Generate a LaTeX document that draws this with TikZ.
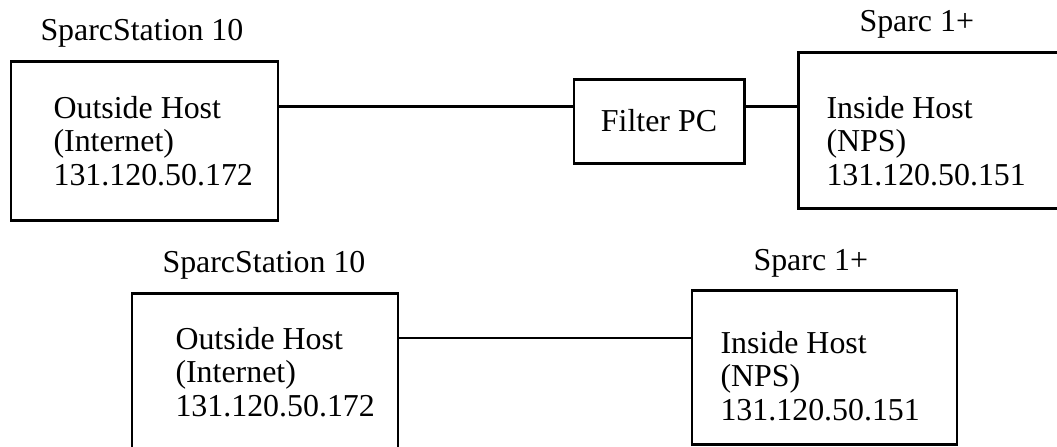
\documentclass[tikz,border=0pt]{standalone}
\usepackage{fontspec}
\setmainfont{Liberation Serif}
\usetikzlibrary{calc}
\begin{document}
\begin{tikzpicture}[
    host/.style={rectangle, draw, line width=1.1pt, inner sep=0pt},
    hosttext/.style={anchor=base west, align=left, inner sep=0pt, font=\fontsize{12.1}{12.6}\selectfont},
    caption/.style={anchor=base west, inner sep=0pt, font=\fontsize{12.1}{12.6}\selectfont},
    link/.style={line width=1.1pt}
]
    \useasboundingbox (0,0) rectangle (14.093,5.947);

    % Upper setup: with filter
    \node[host, minimum width=3.56cm, minimum height=2.12cm] (outT) at (1.927,4.073) {};
    \node[host, minimum width=2.267cm, minimum height=1.12cm, font=\fontsize{12.1}{12.6}\selectfont] (filter) at (8.787,4.333) {Filter PC};
    \node[host, minimum width=3.493cm, minimum height=2.08cm] (inT) at (12.387,4.213) {};

    \node[caption] (capOutT) at (0.533,5.413) {SparcStation 10};
    \node[caption] (capInT) at (11.453,5.533) {Sparc 1+};
    % base anchor sits on the last line
    \node[hosttext] (txtOutT) at (0.707,3.48) {Outside Host\\(Internet)\\131.120.50.172};
    \node[hosttext] (txtInT) at (11.013,3.48) {Inside Host\\(NPS)\\131.120.50.151};

    \coordinate (linkT) at (0,4.533);
    \draw[link] (outT.east |- linkT) -- (filter.west |- linkT);
    \draw[link] (filter.east |- linkT) -- (inT.west |- linkT);

    % Lower setup: direct
    \node[host, minimum width=3.547cm, minimum height=2.093cm] (outB) at (3.533,0.993) {};
    \node[host, minimum width=3.533cm, minimum height=2.053cm] (inB) at (10.993,1.053) {};

    \node[caption] (capOutB) at (2.16,2.32) {SparcStation 10};
    \node[caption] (capInB) at (10.04,2.347) {Sparc 1+};
    \node[hosttext] (txtOutB) at (2.333,0.4) {Outside Host\\(Internet)\\131.120.50.172};
    \node[hosttext] (txtInB) at (9.6,0.347) {Inside Host\\(NPS)\\131.120.50.151};

    \coordinate (linkB) at (0,1.44);
    \draw[link] (outB.east |- linkB) -- (inB.west |- linkB);

\end{tikzpicture}
\end{document}
